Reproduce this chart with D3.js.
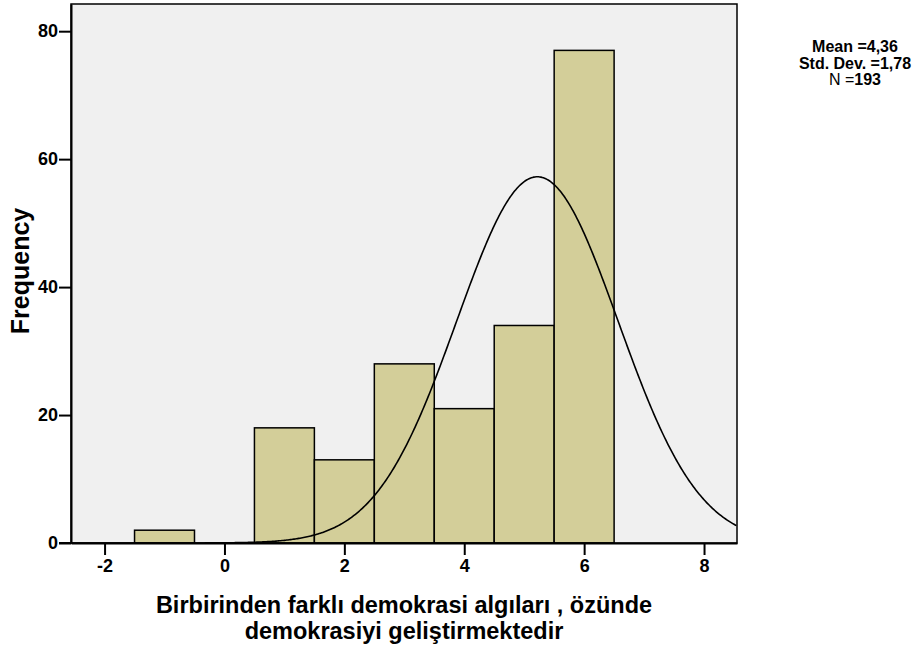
<!DOCTYPE html>
<html>
<head>
<meta charset="utf-8">
<script src="https://cdn.jsdelivr.net/npm/d3@7"></script>
<style>
body { margin: 0; background: #fff; }
svg text { font-family: "Liberation Sans", Arial, sans-serif; }
</style>
</head>
<body>
<svg id="chart" width="921" height="648"></svg>
<script>
// bin centres and counts
const binCenters = [-1, 1, 2, 3, 4, 5, 6];
const counts = [2, 18, 13, 28, 21, 34, 77];
const binWidth = 1;
const xTicks = [-2, 0, 2, 4, 6, 8];
const yTicks = [0, 20, 40, 60, 80];
const statLines = ["Mean =4,36", "Std. Dev. =1,78"];
const nTotal = 193;
// parameters of the drawn normal curve
const curveMean = 5.22;
const curveSd = 1.345;

const margin = { top: 4, right: 184, bottom: 105, left: 71 },
      width = 921 - margin.left - margin.right,
      height = 648 - margin.top - margin.bottom;

const svg = d3.select("#chart");
const g = svg.append("g").attr("transform", `translate(${margin.left},${margin.top})`);

const x = d3.scaleLinear().domain([-2.56, 8.55]).range([0, width]);
const y = d3.scaleLinear().domain([0, 84.25]).range([height, 0]);

// plot background
g.append("rect")
  .attr("width", width).attr("height", height)
  .attr("fill", "#f0f0f0");

// bars
g.selectAll("rect.bar")
  .data(binCenters)
  .enter().append("rect")
    .attr("class", "bar")
    .attr("x", d => x(d - binWidth / 2))
    .attr("width", x(binWidth) - x(0))
    .attr("y", (d, i) => y(counts[i]))
    .attr("height", (d, i) => y(0) - y(counts[i]))
    .attr("fill", "#d3ce99")
    .attr("stroke", "#000")
    .attr("stroke-width", 1.5);

// normal curve
const pts = d3.range(x.domain()[0], x.domain()[1] + 0.001, 0.02);
const dens = v => nTotal * binWidth / (curveSd * Math.sqrt(2 * Math.PI)) *
  Math.exp(-0.5 * Math.pow((v - curveMean) / curveSd, 2));
g.append("path")
  .datum(pts)
  .attr("fill", "none")
  .attr("stroke", "#000")
  .attr("stroke-width", 1.6)
  .attr("d", d3.line().x(d => x(d)).y(d => y(dens(d))));

// frame
g.append("rect")
  .attr("width", width).attr("height", height)
  .attr("fill", "none").attr("stroke", "#000").attr("stroke-width", 1.5);

// axes
const xAxis = g.append("g")
  .attr("transform", `translate(0,${height})`)
  .call(d3.axisBottom(x).tickValues(xTicks).tickFormat(d => String(d))
    .tickSize(12).tickPadding(4).tickSizeOuter(0));
const yAxis = g.append("g")
  .call(d3.axisLeft(y).tickValues(yTicks).tickFormat(d => String(d))
    .tickSize(12).tickPadding(1).tickSizeOuter(0));
[xAxis, yAxis].forEach(a => {
  a.select(".domain").attr("stroke-width", 2);
  a.selectAll(".tick line").attr("stroke-width", 2);
  a.selectAll("text")
    .attr("fill", "#000")
    .style("font-size", "18px")
    .style("font-weight", "bold");
});
// y axis baseline extends under the zero label
g.append("line")
  .attr("x1", -12).attr("x2", 0)
  .attr("y1", height).attr("y2", height)
  .attr("stroke", "#000").attr("stroke-width", 2);

// axis titles
svg.append("text")
  .attr("transform", "translate(29,271) rotate(-90)")
  .attr("text-anchor", "middle")
  .style("font-size", "25px").style("font-weight", "bold")
  .text("Frequency");

const xt = svg.append("text")
  .attr("text-anchor", "middle")
  .style("font-size", "23.5px").style("font-weight", "bold");
xt.append("tspan").attr("x", 404).attr("y", 613).text("Birbirinden farklı demokrasi algıları , özünde");
xt.append("tspan").attr("x", 404).attr("y", 639).text("demokrasiyi geliştirmektedir");

// stats
const stats = svg.append("g").style("font-size", "16px");
stats.selectAll("text.stat")
  .data(statLines)
  .enter().append("text")
    .attr("class", "stat")
    .attr("x", 855)
    .attr("y", (d, i) => 52 + i * 16.5)
    .attr("text-anchor", "middle")
    .style("font-weight", "bold")
    .text(d => d);
const nLine = stats.append("text")
  .attr("x", 855).attr("y", 85)
  .attr("text-anchor", "middle");
nLine.append("tspan").text("N =");
nLine.append("tspan").style("font-weight", "bold").text(nTotal);
</script>
</body>
</html>
